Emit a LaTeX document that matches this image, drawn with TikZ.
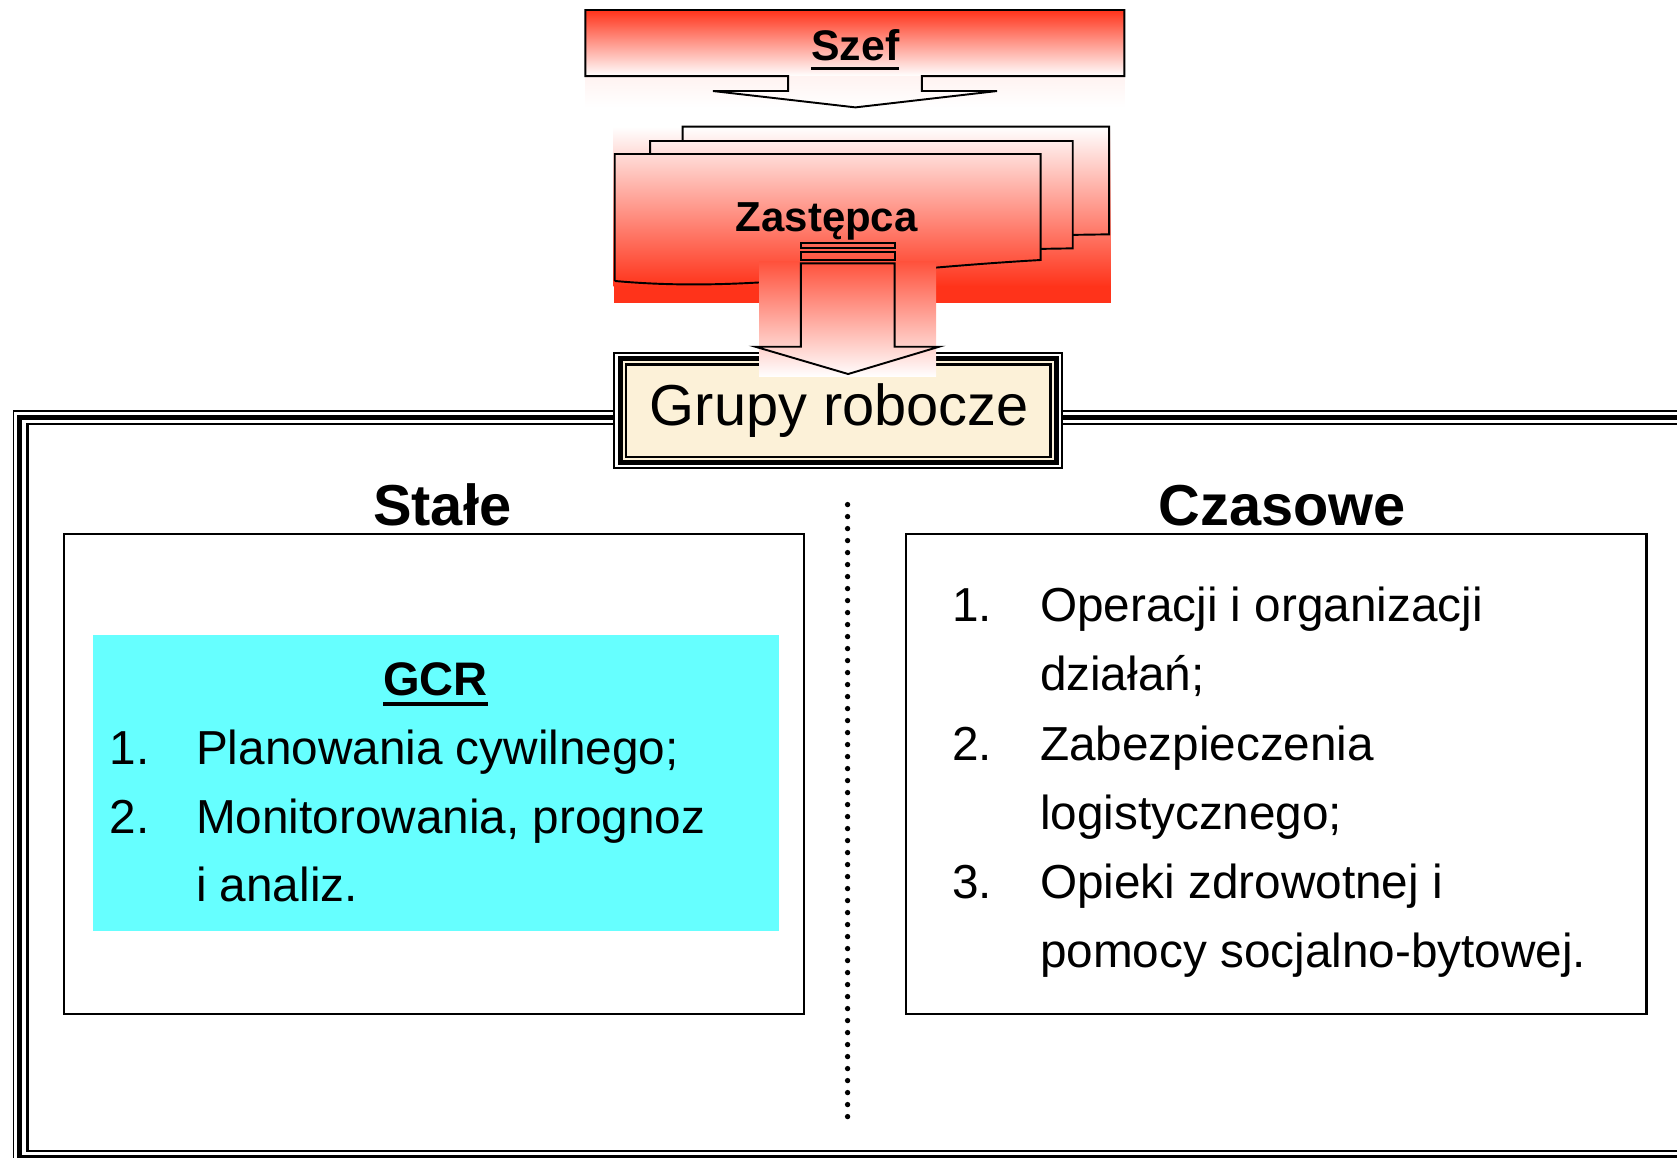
\documentclass[tikz,border=0pt]{standalone}
\usepackage{fontspec}
\setmainfont{Liberation Sans}
\usepackage{tikz}

\definecolor{chiefred}{RGB}{255,51,26}
\definecolor{parchment}{RGB}{252,241,216}
\definecolor{gcrcyan}{RGB}{102,255,255}

\newcommand{\ulbf}[1]{\setbox0\hbox{\bfseries #1}\rlap{\rule[-0.22em]{\wd0}{0.085em}}\box0}

\begin{document}
\begin{tikzpicture}[x=0.5pt, y=-0.5pt,
  outline/.style={line width=0.9pt},
  listtext/.style={anchor=base west, inner sep=0pt, font=\fontsize{22.3}{26}\selectfont},
  heading/.style={anchor=base, inner sep=0pt, font=\fontsize{27}{32}\selectfont\bfseries}]
\useasboundingbox (0,0) rectangle (1568,1082);

% Outer frame
\draw[line width=0.8pt] (12.5,384.6) rectangle (1600,1088.5);
\draw[line width=2.4pt] (18.6,390.4) rectangle (1594,1082.5);
\draw[line width=1.3pt] (25.5,396.5) rectangle (1587,1076.2);

% Szef
\shade[top color=chiefred, bottom color=white] (547.3,9.35) rectangle (1051.2,71.1);
\shade[top color=chiefred!6, bottom color=white] (547.3,71.1) rectangle (1051.2,100.4);
\draw[outline] (547.3,9.35) -- (1051.2,9.35) -- (1051.2,71.1) -- (862,71.1) -- (862,85.1)
  -- (932.3,85.1) -- (799.8,100.4) -- (666.6,85.1) -- (736.9,85.1) -- (736.9,71.1)
  -- (547.3,71.1) -- cycle;
\node[anchor=base, inner sep=0pt, font=\fontsize{20}{24}\selectfont] (szef) at (799.8,57) {\ulbf{Szef}};

% Zastepca (stacked cards)
\shade[top color=white, bottom color=chiefred] (573.7,118.4) rectangle (1038.7,268);
\fill[chiefred] (573.7,267.5) rectangle (1038.7,283);
\draw[outline] (638.3,131.8) -- (638.3,118.4) -- (1037,118.4) -- (1037,219.1) -- (1003,219.6);
\draw[outline] (607.8,144) -- (607.8,131.8) -- (1003,131.8) -- (1003,232.2) -- (973,232.7);
\draw[outline] (574.8,262.7) -- (574.8,144) -- (973,144) -- (973,243.1)
  .. controls (800,253) and (700,274) .. (574.8,262.7);
\node[anchor=base, inner sep=0pt, font=\fontsize{19.6}{24}\selectfont\bfseries] (zastepca) at (773,216.6) {Zastępca};

% Grupy robocze
\fill[white] (573.5,328.8) rectangle (994.2,438.8);
\fill[parchment] (580,335.3) rectangle (987.7,432.4);
\draw[line width=0.9pt] (574.5,329.8) rectangle (993.2,437.9);
\draw[line width=2.3pt] (580,335.3) rectangle (987.7,432.4);
\draw[line width=1pt] (585.5,340.8) rectangle (982.2,426.9);

% Arrow down to the groups
\shade[top color=chiefred!85, bottom color=white] (709.7,244.7) rectangle (875.2,352.2);
\draw[outline] (748.8,226.9) rectangle (836.5,232.2);
\draw[outline] (748.8,235.3) rectangle (836.5,243.1);
\draw[outline] (748.8,246.2) -- (836.5,246.2) -- (836.5,324.2) -- (878,324.2) -- (793,349.7)
  -- (706.3,324.2) -- (748.8,324.2) -- cycle;
\node[anchor=base, inner sep=0pt, font=\fontsize{27}{32}\selectfont] (grupy) at (784.8,397.5) {Grupy robocze};

% Stale / Czasowe
\node[heading] (stale) at (413.5,491.8) {Stałe};
\node[heading] (czasowe) at (1199,491.8) {Czasowe};
\draw[line width=1pt] (59.9,499.2) rectangle (752,947.7);
\draw[line width=1pt] (847,499.2) rectangle (1539.5,947.7);
\draw[line width=2.5pt, line cap=round, dash pattern=on 0pt off 5.61pt] (792.5,471.8) -- (792.5,1044.1);

% GCR
\fill[gcrcyan] (86.9,593.7) rectangle (727.9,870.2);
\node[anchor=base, inner sep=0pt, font=\fontsize{22}{26}\selectfont] (gcr) at (407,650.5) {\ulbf{GCR}};
\foreach \n/\y in {1/714.6, 2/779}
  \node[listtext] (gcrnum\n) at (102,\y) {\n.};
\foreach \n/\y/\t in {1/714.6/{Planowania cywilnego;}, 2/779/{Monitorowania, prognoz}, 3/843.2/{i analiz.}}
  \node[listtext] (gcr\n) at (183,\y) {\t};

% Temporary groups
\foreach \n/\y in {1/581, 2/711.3, 3/840.2}
  \node[listtext] (tmpnum\n) at (890,\y) {\n.};
\foreach \n/\y/\t in {1/581/{Operacji i organizacji}, 2/645.5/{działań;}, 3/711.3/{Zabezpieczenia},
    4/775.2/{logistycznego;}, 5/840.2/{Opieki zdrowotnej i}, 6/904.2/{pomocy socjalno-bytowej.}}
  \node[listtext] (tmp\n) at (972,\y) {\t};
\end{tikzpicture}
\end{document}
